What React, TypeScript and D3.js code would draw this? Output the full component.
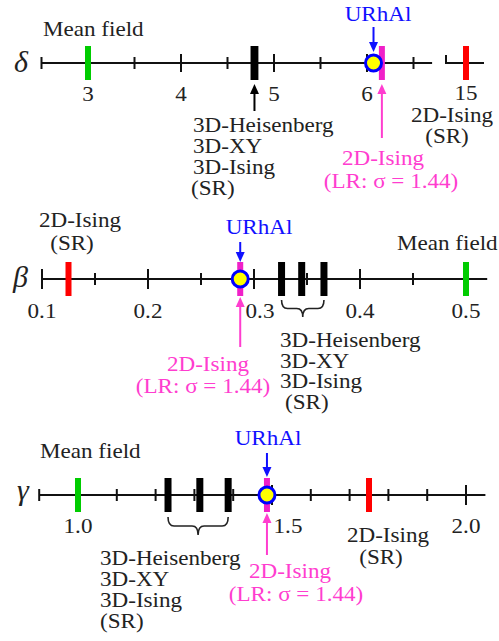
import * as d3 from 'd3';

// delta panel
const deltaMajor = [3, 4, 5, 6];
const deltaMinor = [2.5, 3.5, 4.5, 5.5, 6.5];
const deltaMeanField = 3;
const delta3D = [4.78, 4.79, 4.8]; // Heisenberg, XY, Ising
const deltaURhAl = 6.07;
const delta2DLR = 6.16;
const delta2DSR = 15;

// beta panel
const betaMajor = [0.1, 0.2, 0.3, 0.4, 0.5];
const betaMinor = [0.15, 0.25, 0.35, 0.45];
const betaMeanField = 0.5;
const beta3D = [0.366, 0.345, 0.326];
const betaURhAl = 0.287;
const beta2DLR = 0.287;
const beta2DSR = 0.125;

// gamma panel
const gammaMajor = [1.0, 1.5, 2.0];
const gammaMinor = [0.9, 1.1, 1.2, 1.3, 1.4, 1.6, 1.7, 1.8, 1.9];
const gammaMeanField = 1.0;
const gamma3D = [1.387, 1.314, 1.232];
const gammaURhAl = 1.487;
const gamma2DLR = 1.487;
const gamma2DSR = 1.75;

const group3D = ['3D-Heisenberg', '3D-XY', '3D-Ising', '(SR)'];
const lrLines = ['2D-Ising', '(LR: \u03c3 = 1.44)'];
const srLines = ['2D-Ising', '(SR)'];

const GREEN = '#00cc00';
const RED = '#ff0000';
const PINK = '#ff3dcf';
const PINKBAR = '#f020c8';
const BLUE = '#1010ff';
const FONT = "'Liberation Serif'";

const xd = d3.scaleLinear().domain([3, 6]).range([88, 367]);
const xdBreak = d3.scaleLinear().domain([14.5, 15.5]).range([446, 486]);
const xb = d3.scaleLinear().domain([0.1, 0.5]).range([42, 466]);
const xg = d3.scaleLinear().domain([1.0, 2.0]).range([78, 466]);

function Label({ x, y, text, anchor = 'start', fill = '#222', size = 21 }: any) {
  return (
    <text
      transform={`translate(${x},${y}) scale(1.1,1)`}
      textAnchor={anchor}
      fill={fill}
      style={{ fontFamily: FONT, fontSize: size }}
    >
      {text}
    </text>
  );
}

function Greek({ x, y, ch }: any) {
  return (
    <text x={x} y={y} fill="#222" style={{ fontFamily: FONT, fontSize: 30, fontStyle: 'italic' }}>
      {ch}
    </text>
  );
}

function Bar({ x, y, color, w = 6 }: any) {
  return <rect x={x - w / 2} y={y - 17} width={w} height={34} fill={color} />;
}

function Arrow({ x, tail, tip, color }: any) {
  const dir = tip > tail ? 1 : -1;
  const head = 10;
  return (
    <g>
      <line x1={x} x2={x} y1={tail} y2={tip - dir * head} stroke={color} strokeWidth={2} />
      <path d={`M${x},${tip} L${x - 4.5},${tip - dir * head} L${x + 4.5},${tip - dir * head} Z`} fill={color} />
    </g>
  );
}

function Brace({ x1, x2, y, h }: any) {
  const m = (x1 + x2) / 2;
  const r = 6;
  const yh = y + h / 2;
  const d = `M${x1},${y} Q${x1},${yh} ${x1 + r},${yh} L${m - r},${yh} Q${m},${yh} ${m},${y + h} Q${m},${yh} ${m + r},${yh} L${x2 - r},${yh} Q${x2},${yh} ${x2},${y}`;
  return <path d={d} fill="none" stroke="#222" strokeWidth={1.6} />;
}

function Ticks({ scale, major, minor, y, majorH = 9, minorH = 6 }: any) {
  return (
    <g stroke="#111" strokeWidth={2}>
      {major.map((v: number) => (
        <line key={'M' + v} x1={scale(v)} x2={scale(v)} y1={y - majorH} y2={y + majorH} />
      ))}
      {minor.map((v: number) => (
        <line key={'m' + v} x1={scale(v)} x2={scale(v)} y1={y - minorH} y2={y + minorH} />
      ))}
    </g>
  );
}

function Lines({ x, y, lines, dy = 21, fill = '#222', anchor = 'start', xs }: any) {
  return (
    <g>
      {lines.map((t: string, i: number) => (
        <Label key={t} x={xs ? xs[i] : x} y={y + i * dy} text={t} fill={fill} anchor={anchor} />
      ))}
    </g>
  );
}

function Urhal({ x, y }: any) {
  return <circle cx={x} cy={y} r={8} fill="#ffff00" stroke="#0000ff" strokeWidth={3} />;
}

export default function App() {
  const yd = 63;
  const yb = 279;
  const yg = 495;
  return (
    <svg
      width={499}
      height={641}
      style={{ position: 'absolute', left: 0, top: 0, background: '#fff' }}
    >
      {/* ---------- delta ---------- */}
      <Greek x={14} y={72} ch="δ" />
      <line x1={xd(2.5)} x2={xd(6.7)} y1={yd} y2={yd} stroke="#111" strokeWidth={2} />
      <path d={`M${xdBreak(14.5)},${yd - 8} L${xdBreak(14.5)},${yd} L${xdBreak(15.45)},${yd}`} fill="none" stroke="#111" strokeWidth={2} />
      <Ticks scale={xd} major={deltaMajor} minor={deltaMinor} y={yd} />
      {deltaMajor.map((v) => (
        <Label key={v} x={xd(v)} y={101} text={String(v)} anchor="middle" />
      ))}
      <Label x={xdBreak(delta2DSR)} y={100} text="15" anchor="middle" />
      <Bar x={xd(deltaMeanField)} y={yd} color={GREEN} />
      {delta3D.map((v) => (
        <Bar key={v} x={xd(v)} y={yd} color="#000" />
      ))}
      <Bar x={xd(delta2DLR)} y={yd} color={PINKBAR} />
      <Bar x={xdBreak(delta2DSR)} y={yd} color={RED} />
      <Urhal x={xd(deltaURhAl)} y={yd} />
      <Label x={43} y={36} text="Mean field" />
      <Label x={378} y={21} text="URhAl" anchor="middle" fill={BLUE} />
      <Arrow x={xd(deltaURhAl)} tail={27} tip={52} color={BLUE} />
      <Arrow x={xd(delta3D[1])} tail={111} tip={84} color="#000" />
      <Lines x={193} y={132} lines={group3D} xs={[193, 193, 193, 191]} />
      <Arrow x={xd(delta2DLR)} tail={138} tip={84} color={PINK} />
      <Lines x={0} y={165} lines={lrLines} fill={PINK} anchor="middle" dy={23} xs={[383, 391]} />
      <Lines x={0} y={122} lines={srLines} anchor="middle" xs={[452, 447]} />

      {/* ---------- beta ---------- */}
      <Greek x={13} y={287} ch="β" />
      <line x1={xb(0.1)} x2={xb(0.52)} y1={yb} y2={yb} stroke="#111" strokeWidth={2} />
      <Ticks scale={xb} major={betaMajor} minor={betaMinor} y={yb} majorH={10} />
      {betaMajor.map((v) => (
        <Label key={v} x={xb(v) + (v === 0.3 ? 6 : 0)} y={318} text={v.toFixed(1)} anchor="middle" />
      ))}
      <Bar x={xb(beta2DSR)} y={yb} color={RED} />
      <Bar x={xb(betaMeanField)} y={yb} color={GREEN} />
      {beta3D.map((v) => (
        <Bar key={v} x={xb(v)} y={yb} color="#000" w={7} />
      ))}
      <Bar x={xb(beta2DLR)} y={yb} color={PINKBAR} />
      <Urhal x={xb(betaURhAl)} y={yb} />
      <Lines x={0} y={227} lines={srLines} anchor="middle" xs={[80, 72]} dy={23} />
      <Label x={259} y={234} text="URhAl" anchor="middle" fill={BLUE} />
      <Arrow x={xb(betaURhAl)} tail={242} tip={262} color={BLUE} />
      <Arrow x={xb(beta2DLR)} tail={347} tip={297} color={PINK} />
      <Lines x={0} y={371} lines={lrLines} fill={PINK} anchor="middle" dy={22} xs={[208, 203]} />
      <Brace x1={xb(beta3D[2])} x2={xb(beta3D[0])} y={300} h={17} />
      <Lines x={280} y={347} lines={group3D} dy={20.7} xs={[280, 280, 280, 285]} />
      <Label x={397} y={250} text="Mean field" />

      {/* ---------- gamma ---------- */}
      <Greek x={17} y={500} ch="γ" />
      <line x1={xg(0.9)} x2={xg(2.05)} y1={yg} y2={yg} stroke="#111" strokeWidth={2} />
      <Ticks scale={xg} major={gammaMajor} minor={gammaMinor} y={yg} majorH={10} />
      {gammaMajor.map((v) => (
        <Label key={v} x={xg(v) + (v === 1.5 ? 16 : 0)} y={533} text={v.toFixed(1)} anchor="middle" />
      ))}
      <Bar x={xg(gammaMeanField)} y={yg} color={GREEN} />
      {gamma3D.map((v) => (
        <Bar key={v} x={xg(v)} y={yg} color="#000" w={7} />
      ))}
      <Bar x={xg(gamma2DSR)} y={yg} color={RED} />
      <Bar x={xg(gamma2DLR)} y={yg} color={PINKBAR} />
      <Urhal x={xg(gammaURhAl)} y={yg} />
      <Label x={40} y={458} text="Mean field" />
      <Label x={268} y={445} text="URhAl" anchor="middle" fill={BLUE} />
      <Arrow x={xg(gammaURhAl)} tail={453} tip={477} color={BLUE} />
      <Arrow x={xg(gamma2DLR)} tail={555} tip={513} color={PINK} />
      <Lines x={0} y={578} lines={lrLines} fill={PINK} anchor="middle" dy={23} xs={[290, 296]} />
      <Brace x1={xg(gamma3D[2])} x2={xg(gamma3D[0])} y={517} h={18} />
      <Lines x={100} y={565} lines={group3D} dy={21} />
      <Lines x={0} y={542} lines={srLines} anchor="middle" xs={[388, 381]} dy={22} />
    </svg>
  );
}
